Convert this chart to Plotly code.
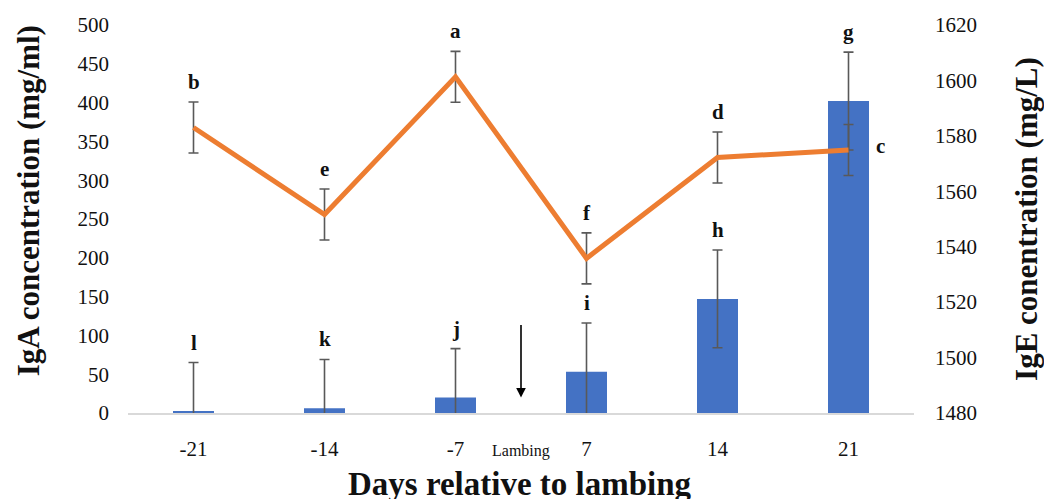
import plotly.graph_objects as go

# Sampling days relative to lambing
days = ["-21", "-14", "-7", "7", "14", "21"]

# IgA (bars, left axis) and IgE (line, right axis) with their SE
iga = [2, 6, 20, 53, 147, 402]
iga_err = [63, 63, 63, 63, 63, 63]
ige = [1583, 1551.6, 1601.3, 1535.8, 1572.2, 1574.9]
ige_err = [9.2, 9.2, 9.2, 9.2, 9.2, 9.2]

# Significance letters
iga_letters = ["l", "k", "j", "i", "h", "g"]
ige_letters = ["b", "e", "a", "f", "d", "c"]

SERIF = "Liberation Serif"
ERR_COLOR = "#595959"
TXT = "#111111"

fig = go.Figure()

fig.add_trace(go.Bar(
    x=days, y=iga, width=0.313,
    marker=dict(color="#4472C4", line=dict(width=0)),
    error_y=dict(type="data", array=iga_err, color=ERR_COLOR, thickness=1.6, width=5),
    yaxis="y", showlegend=False, hoverinfo="skip",
))

# IgE error bars drawn first so the line sits on top of them
fig.add_trace(go.Scatter(
    x=days, y=ige, mode="markers", marker=dict(size=0.1, opacity=0),
    error_y=dict(type="data", array=ige_err, color=ERR_COLOR, thickness=1.6, width=5),
    yaxis="y2", showlegend=False, hoverinfo="skip",
))
fig.add_trace(go.Scatter(
    x=days, y=ige, mode="lines",
    line=dict(color="#ED7D31", width=5),
    yaxis="y2", showlegend=False,
))

letter_font = dict(family=SERIF, size=21, color=TXT, weight="bold")
annotations = []
# category positions are addressed by index so the labels sit on the bars
for i, (v, e, t) in enumerate(zip(iga, iga_err, iga_letters)):
    annotations.append(dict(x=i, y=v + e, xref="x", yref="y", text=t, showarrow=False,
                            yshift=20, font=letter_font))
for i, (v, e, t) in enumerate(zip(ige, ige_err, ige_letters)):
    if t == "c":
        annotations.append(dict(x=i, y=v, xref="x", yref="y2", text=t, showarrow=False,
                                xshift=32, yshift=4, font=letter_font))
    else:
        annotations.append(dict(x=i, y=v + e, xref="x", yref="y2", text=t, showarrow=False,
                                yshift=20, font=letter_font))

# Lambing marker between -7 and 7
annotations.append(dict(x=2.5, y=20, xref="x", yref="y", text="", showarrow=True,
                        ax=0, ay=-74, arrowhead=2, arrowsize=1.2, arrowwidth=1.6,
                        arrowcolor="#000"))
annotations.append(dict(x=2.5, y=0, xref="x", yref="y", text="Lambing", showarrow=False,
                        yshift=-38, font=dict(family=SERIF, size=16, color=TXT)))

# Axis titles for the left and bottom axes
annotations.append(dict(x=-0.127, y=0.546, xref="paper", yref="paper",
                        text="IgA concentration (mg/ml)", textangle=-90, showarrow=False,
                        xanchor="center", yanchor="middle",
                        font=dict(family=SERIF, size=31, color=TXT, weight="bold")))
annotations.append(dict(x=0.4987, y=-0.182, xref="paper", yref="paper",
                        text="Days relative to lambing", showarrow=False,
                        xanchor="center", yanchor="middle",
                        font=dict(family=SERIF, size=33, color=TXT, weight="bold")))

fig.update_layout(
    width=1044, height=499,
    margin=dict(l=128, r=130, t=25, b=86),
    paper_bgcolor="white", plot_bgcolor="white",
    annotations=annotations,
    xaxis=dict(
        type="category", categoryorder="array", categoryarray=days,
        range=[-0.5, 5.5], automargin=False,
        showgrid=False, showline=True, linecolor="#d9d9d9", linewidth=1.5,
        ticks="", ticklabelstandoff=16,
        tickfont=dict(family=SERIF, size=21, color=TXT),
    ),
    yaxis=dict(
        range=[0, 500], dtick=50, showgrid=False, zeroline=False, showline=False,
        ticks="", ticklabelstandoff=18, automargin=False,
        tickfont=dict(family=SERIF, size=21, color=TXT),
    ),
    yaxis2=dict(
        range=[1480, 1620], dtick=20, overlaying="y", side="right",
        showgrid=False, zeroline=False, showline=False,
        ticks="", ticklabelstandoff=20, automargin=False,
        tickfont=dict(family=SERIF, size=21, color=TXT),
        title=dict(text="IgE conentration (mg/L)", standoff=46,
                   font=dict(family=SERIF, size=31, color=TXT, weight="bold")),
    ),
)

fig.write_html("out.html")
